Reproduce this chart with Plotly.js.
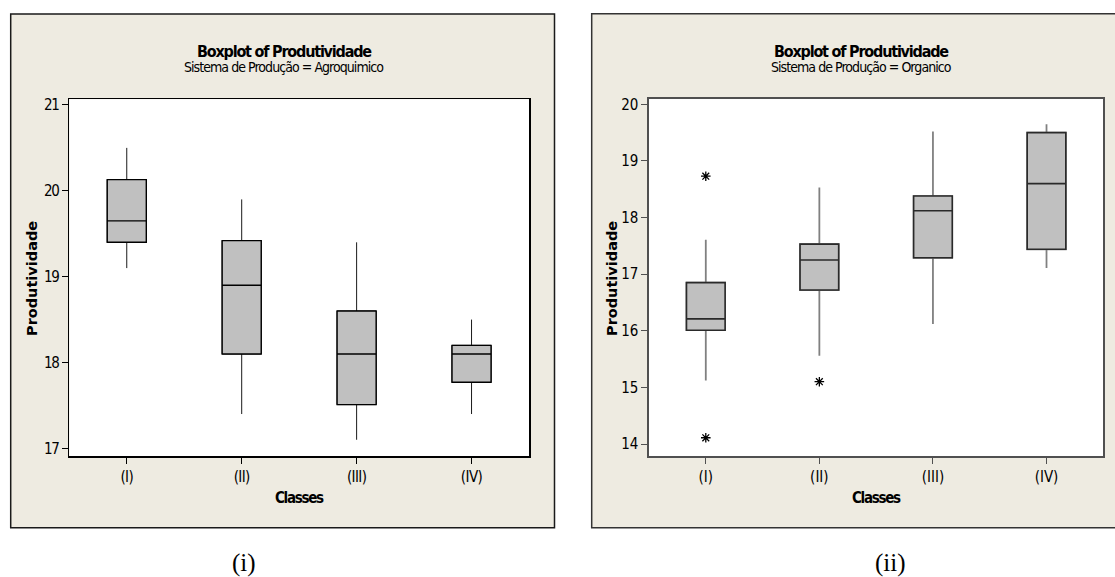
<!DOCTYPE html>
<html>
<head>
<meta charset="utf-8">
<script src="https://cdn.plot.ly/plotly-3.0.1.min.js"></script>
<style>
  html, body { margin: 0; padding: 0; background: #ffffff; }
  #chart { width: 1115px; height: 577px; }
  #chart .ytick text { letter-spacing: -1.2px; }
  #chart .xtick text { letter-spacing: -0.6px; }
</style>
</head>
<body>
<div id="chart"></div>
<script>
// ---------- data ----------
var categories = ['(I)', '(II)', '(III)', '(IV)'];

// Panel (i): Sistema de Produção = Agroquimico
var agroQ1      = [19.40, 18.10, 17.51, 17.77];
var agroMedian  = [19.65, 18.90, 18.10, 18.10];
var agroQ3      = [20.13, 19.42, 18.60, 18.20];
var agroLow     = [19.10, 17.40, 17.10, 17.40];
var agroHigh    = [20.50, 19.90, 19.40, 18.50];

// Panel (ii): Sistema de Produção = Organico
var orgQ1       = [16.01, 16.72, 17.29, 17.44];
var orgMedian   = [16.21, 17.25, 18.12, 18.60];
var orgQ3       = [16.85, 17.53, 18.38, 19.50];
var orgLow      = [15.12, 15.56, 16.12, 17.11];
var orgHigh     = [17.61, 18.53, 19.52, 19.65];
var orgOutlierX = ['(I)', '(I)', '(II)'];
var orgOutlierY = [18.73, 14.11, 15.10];

var titleText     = 'Boxplot of Produtividade';
var subtitleLeft  = 'Sistema de Produção = Agroquimico';
var subtitleRight = 'Sistema de Produção = Organico';
var yTitle        = 'Produtividade';
var xTitle        = 'Classes';
var captions      = ['(i)', '(ii)'];

// ---------- helpers ----------
var W = 1115, H = 577;
function px(x) { return x / W; }
function py(y) { return 1 - y / H; }
function tight(t, sp) { return '<span style="letter-spacing:' + sp + 'px">' + t + '</span>'; }

var NARROW = '"Liberation Sans Narrow", "DejaVu Sans Condensed", "Arial Narrow", sans-serif';
var FILL = '#C0C0C0';
var FRAME = '#EEEBE1';

function whiskerTrace(q1, med, q3, lo, hi, xa, ya, color, lw) {
  return {
    type: 'box', x: categories, q1: q1, median: med, q3: q3,
    lowerfence: lo, upperfence: hi,
    xaxis: xa, yaxis: ya, width: 0.34, whiskerwidth: 0,
    fillcolor: FILL, line: { color: color, width: lw },
    boxpoints: false, hoverinfo: 'skip', showlegend: false
  };
}
function boxTrace(q1, med, q3, xa, ya, color, lw) {
  return {
    type: 'box', x: categories, q1: q1, median: med, q3: q3,
    lowerfence: q1, upperfence: q3,
    xaxis: xa, yaxis: ya, width: 0.34, whiskerwidth: 0,
    fillcolor: FILL, line: { color: color, width: lw },
    boxpoints: false, hoverinfo: 'skip', showlegend: false
  };
}

var traces = [
  whiskerTrace(agroQ1, agroMedian, agroQ3, agroLow, agroHigh, 'x', 'y', '#1a1a1a', 1),
  boxTrace(agroQ1, agroMedian, agroQ3, 'x', 'y', '#000000', 1.4),
  whiskerTrace(orgQ1, orgMedian, orgQ3, orgLow, orgHigh, 'x2', 'y2', '#808080', 1.8),
  boxTrace(orgQ1, orgMedian, orgQ3, 'x2', 'y2', '#2a2a2a', 1.6),
  {
    type: 'scatter', mode: 'markers', x: orgOutlierX, y: orgOutlierY,
    xaxis: 'x2', yaxis: 'y2',
    marker: { symbol: 'asterisk-open', size: 8, color: '#000', line: { color: '#000', width: 1.3 } },
    hoverinfo: 'skip', showlegend: false
  }
];

function xAxis(domain, lineColor, anchor) {
  return {
    domain: domain, anchor: anchor, type: 'category',
    categoryorder: 'array', categoryarray: categories,
    range: [-0.5, 3.5], showgrid: false, zeroline: false,
    showline: true, linecolor: lineColor, linewidth: 1.6, mirror: true,
    ticks: 'outside', ticklen: 6, tickwidth: 1, tickcolor: lineColor,
    tickfont: { family: NARROW, size: 15, color: '#000' }, fixedrange: true
  };
}
function yAxis(domain, range, lineColor, anchor) {
  return {
    domain: domain, anchor: anchor, range: range, dtick: 1,
    showgrid: false, zeroline: false,
    showline: true, linecolor: lineColor, linewidth: 1.6, mirror: true,
    ticks: 'outside', ticklen: 6, tickwidth: 1, tickcolor: lineColor,
    tickfont: { family: NARROW, size: 15, color: '#000' }, fixedrange: true
  };
}

var leftPlot  = { x0: 69.3, x1: 529,    y0: 99.3, y1: 456 };
var rightPlot = { x0: 649,  x1: 1103.3, y0: 99,   y1: 456 };

function ann(text, x, y, size, family, extra) {
  var a = { text: text, xref: 'paper', yref: 'paper', x: px(x), y: py(y),
    xanchor: 'center', yanchor: 'middle', showarrow: false,
    font: { family: family, size: size, color: '#000' } };
  for (var k in (extra || {})) a[k] = extra[k];
  return a;
}
var SERIF = '"Liberation Serif", "DejaVu Serif", serif';
var WIDE = '"DejaVu Sans", sans-serif';

var layout = {
  width: W, height: H,
  margin: { l: 0, r: 0, t: 0, b: 0, pad: 0 },
  paper_bgcolor: '#ffffff', plot_bgcolor: '#ffffff',
  showlegend: false, boxmode: 'overlay',
  xaxis:  xAxis([px(leftPlot.x0), px(leftPlot.x1)], '#000000', 'y'),
  yaxis:  yAxis([py(leftPlot.y1), py(leftPlot.y0)], [16.911, 21.066], '#000000', 'x'),
  xaxis2: xAxis([px(rightPlot.x0), px(rightPlot.x1)], '#505050', 'y2'),
  yaxis2: yAxis([py(rightPlot.y1), py(rightPlot.y0)], [13.788, 20.094], '#505050', 'x2'),
  shapes: [
    { type: 'rect', xref: 'paper', yref: 'paper', layer: 'below',
      x0: px(10.7), x1: px(554.5), y0: py(527.7), y1: py(14),
      fillcolor: FRAME, line: { color: '#1a1a1a', width: 1.5 } },
    { type: 'rect', xref: 'paper', yref: 'paper', layer: 'below',
      x0: px(591.7), x1: px(1118), y0: py(527.7), y1: py(13.7),
      fillcolor: FRAME, line: { color: '#333333', width: 1.5 } },
    { type: 'rect', xref: 'paper', yref: 'paper', layer: 'below',
      x0: px(leftPlot.x0), x1: px(leftPlot.x1), y0: py(leftPlot.y1), y1: py(leftPlot.y0),
      fillcolor: '#ffffff', line: { width: 0 } },
    { type: 'rect', xref: 'paper', yref: 'paper', layer: 'below',
      x0: px(rightPlot.x0), x1: px(rightPlot.x1), y0: py(rightPlot.y1), y1: py(rightPlot.y0),
      fillcolor: '#ffffff', line: { width: 0 } }
  ],
  annotations: [
    ann('<b>' + tight(titleText, -1.2) + '</b>', 284, 51, 16, NARROW),
    ann(tight(subtitleLeft, -0.95), 284, 67, 14, NARROW),
    ann('<b>' + tight(titleText, -1.2) + '</b>', 861, 51, 16, NARROW),
    ann(tight(subtitleRight, -0.95), 861, 67, 14, NARROW),
    ann('<b>' + yTitle + '</b>', 32, 279, 14.5, WIDE, { textangle: -90 }),
    ann('<b>' + yTitle + '</b>', 612, 279, 14.5, WIDE, { textangle: -90 }),
    ann('<b>' + tight(xTitle, -1.3) + '</b>', 299, 498, 15, NARROW),
    ann('<b>' + tight(xTitle, -1.3) + '</b>', 876, 498, 15, NARROW),
    ann(captions[0], 244, 563, 25, SERIF),
    ann(captions[1], 890, 563, 25, SERIF)
  ]
};

Plotly.newPlot('chart', traces, layout, { staticPlot: true, displayModeBar: false });
</script>
</body>
</html>
